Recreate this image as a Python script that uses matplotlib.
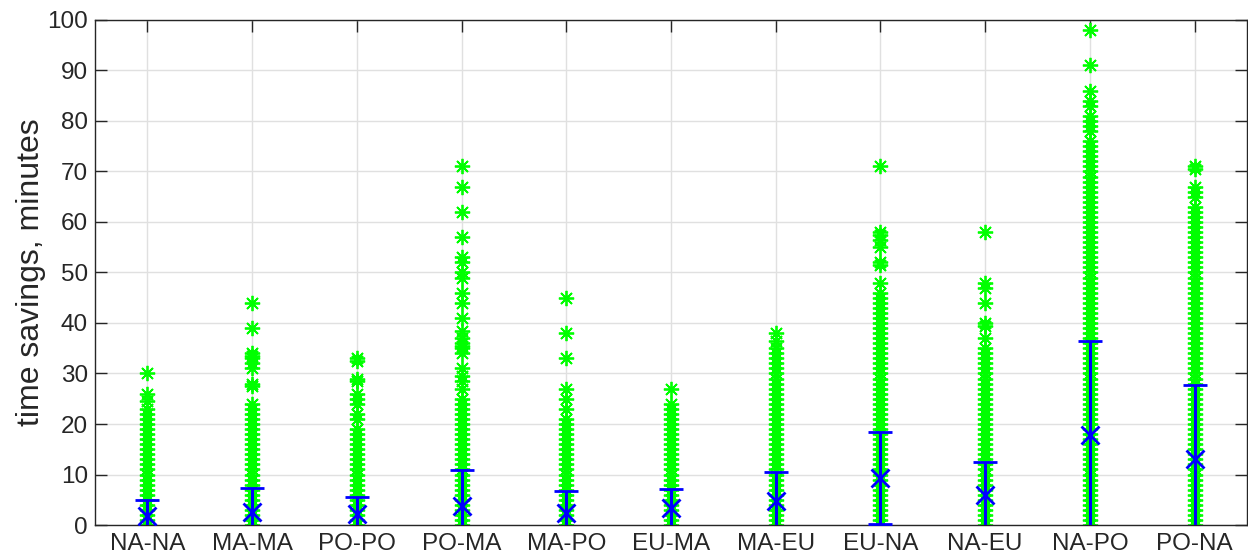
import matplotlib
matplotlib.use("Agg")
import matplotlib.pyplot as plt

categories = ["NA-NA", "MA-MA", "PO-PO", "PO-MA", "MA-PO", "EU-MA",
              "MA-EU", "EU-NA", "NA-EU", "NA-PO", "PO-NA"]

NA_NA = [0, 1, 2, 3, 4, 5, 6, 7, 8, 9, 10, 11, 12, 13, 14, 15, 16, 17, 18, 19,
         20, 21, 22, 23, 24.5, 26, 30]
MA_MA = [0, 1, 2, 3, 4, 5, 6, 7, 8, 9, 10, 11, 12, 13, 14, 15, 16, 17, 18, 19,
         20, 21, 22, 23, 24, 27.5, 28, 31, 32, 33, 33.5, 34, 39, 44]
PO_PO = [0, 1, 2, 3, 4, 5, 6, 7, 8, 9, 10, 11, 12, 13, 14, 15, 16, 17, 18, 19,
         21, 22, 24, 25, 26, 28.5, 29, 32.5, 33]
PO_MA = [0, 1, 2, 3, 4, 5, 6, 7, 8, 9, 10, 11, 12, 13, 14, 15, 16, 17, 18, 19,
         20, 21, 22, 23, 24, 25, 27, 28.5, 29.5, 31, 34, 35, 35.5, 36, 37, 38.5,
         41, 44, 46, 49, 50, 52, 53, 57, 62, 67, 71]
MA_PO = [0, 1, 2, 3, 4, 5, 6, 7, 8, 9, 10, 11, 12, 13, 14, 15, 16, 17, 18, 19,
         20, 21, 23, 25, 27, 33, 38, 45]
EU_MA = [0, 1, 2, 3, 4, 5, 6, 7, 8, 9, 10, 11, 12, 13, 14, 15, 16, 17, 18, 19,
         20, 21, 22, 23, 24, 27]
MA_EU = [0, 1, 2, 3, 4, 5, 6, 7, 8, 9, 10, 11, 12, 13, 14, 15, 16, 17, 18, 19,
         20, 21, 22, 23, 24, 25, 26, 27, 28, 29, 30, 31, 32, 33, 34, 35, 36.5, 38]
EU_NA = [0, 1, 2, 3, 4, 5, 6, 7, 8, 9, 10, 11, 12, 13, 14, 15, 16, 17, 18, 19,
         20, 21, 22, 23, 24, 25, 26, 27, 28, 29, 30, 31, 32, 33, 34, 35, 36, 37,
         38, 39, 40, 41, 42, 43, 44, 45, 46, 48, 51.5, 52, 55, 56.5, 57.5, 58, 71]
NA_EU = [0, 1, 2, 3, 4, 5, 6, 7, 8, 9, 10, 11, 12, 13, 14, 15, 16, 17, 18, 19,
         20, 21, 22, 23, 24, 25, 26, 27, 28, 29, 30, 31, 32, 33, 34, 35, 37,
         39.5, 40, 44, 47, 48, 58]
NA_PO = [0, 1, 2, 3, 4, 5, 6, 7, 8, 9, 10, 11, 12, 13, 14, 15, 16, 17, 18, 19,
         20, 21, 22, 23, 24, 25, 26, 27, 28, 29, 30, 31, 32, 33, 34, 35, 36, 37,
         38, 39, 40, 41, 42, 43, 44, 45, 46, 47, 48, 49, 50, 51, 52, 53, 54, 55,
         56, 57, 58, 59, 60, 61, 62, 63, 64, 65, 66, 67, 68, 69, 70, 71, 72, 73,
         74, 75, 76, 78, 79, 80, 81, 83, 84, 86, 91, 98]
PO_NA = [0, 1, 2, 3, 4, 5, 6, 7, 8, 9, 10, 11, 12, 13, 14, 15, 16, 17, 18, 19,
         20, 21, 22, 23, 24, 25, 26, 27, 28, 29, 30, 31, 32, 33, 34, 35, 36, 37,
         38, 39, 40, 41, 42, 43, 44, 45, 46, 47, 48, 49, 50, 51, 52, 53, 54, 55,
         56, 57, 58, 59, 60, 61, 62, 63, 65, 66, 67, 70.5, 71]

savings = [NA_NA, MA_MA, PO_PO, PO_MA, MA_PO, EU_MA, MA_EU, EU_NA, NA_EU, NA_PO, PO_NA]
means = [1.85, 2.65, 2.1, 3.8, 2.4, 3.3, 4.8, 9.3, 5.9, 17.9, 13.0]
stds = [3.1, 4.65, 3.4, 7.1, 4.3, 3.9, 5.6, 9.1, 6.5, 18.5, 14.8]

plt.rcParams['font.family'] = ['Liberation Sans', 'DejaVu Sans']

fig = plt.figure(figsize=(12.48, 5.52), dpi=100)
ax = fig.add_axes([0.0761, 0.0489, 0.9231, 0.9149])

axcol = (0.15, 0.15, 0.15)
positions = list(range(1, len(categories) + 1))

for pos, vals in zip(positions, savings):
    ax.plot([pos] * len(vals), vals, linestyle='none', marker=(8, 2, 0),
            markersize=11, markeredgewidth=1.3, color=(0, 1, 0), zorder=2)

ax.errorbar(positions, means, yerr=stds, fmt='x', color=(0, 0, 1),
            markersize=13, markeredgewidth=2, elinewidth=2.2, capsize=8.5,
            capthick=2.2, zorder=3)

ax.set_xlim(0.5, 11.5)
ax.set_ylim(0, 100)
ax.set_xticks(positions)
ax.set_xticklabels(categories)
ax.set_yticks(range(0, 101, 10))
ax.grid(True, color=(0.88, 0.88, 0.88), linewidth=1)
ax.set_axisbelow(True)
ax.tick_params(direction='in', length=8.5, width=1, colors=axcol,
               labelsize=17.5, top=True, right=True)
ax.tick_params(axis='y', pad=5)
ax.tick_params(axis='x', pad=6)
for lbl in ax.get_xticklabels() + ax.get_yticklabels():
    lbl.set_color((0.15, 0.15, 0.15))
for sp in ax.spines.values():
    sp.set_color(axcol)
    sp.set_linewidth(1)
ax.set_ylabel("time savings, minutes", fontsize=23, color=axcol, labelpad=1)

fig.savefig("out.png", dpi=100)
